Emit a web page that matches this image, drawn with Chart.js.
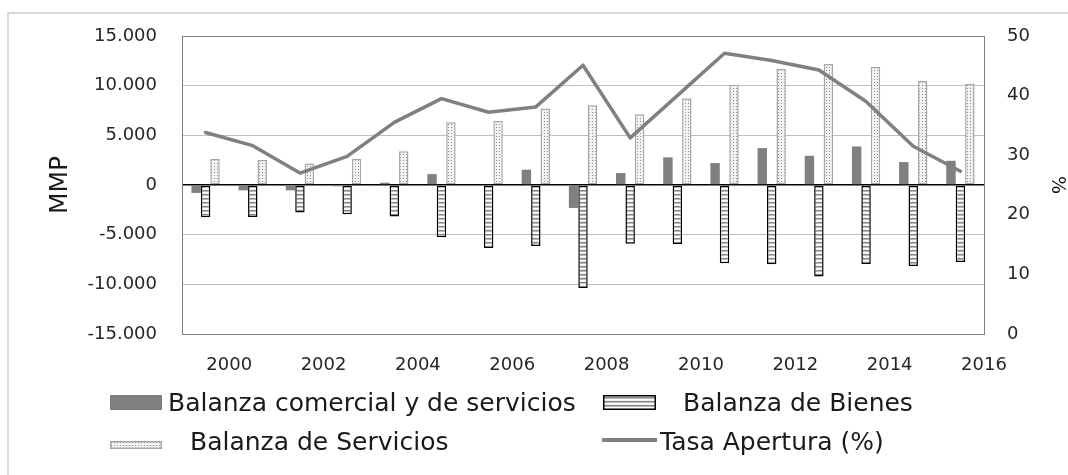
<!DOCTYPE html>
<html>
<head>
<meta charset="utf-8">
<script src="https://cdn.jsdelivr.net/npm/chart.js@4.4.1/dist/chart.umd.min.js"></script>
<style>
  html, body { margin: 0; padding: 0; background: #ffffff; }
  #wrap { position: relative; width: 1068px; height: 475px; overflow: hidden; font-family: "DejaVu Sans", sans-serif; }
  #frame { position: absolute; left: 7px; top: 12px; right: -10px; bottom: -10px;
           border-left: 2px solid #d9d9d9; border-top: 2px solid #d9d9d9; }
  #chart { position: absolute; left: 0; top: 0; }
  .lg-text { position: absolute; font-size: 25px; line-height: 25px; color: #1a1a1a; white-space: nowrap; }
  .lg-swatch { position: absolute; display: block; }
</style>
</head>
<body>
<div id="wrap">
  <div id="frame"></div>
  <canvas id="chart" width="1068" height="475"></canvas>
  <div id="legend"></div>
</div>
<script>
// Años (categorías del eje X)
const years = ['2000', '2001', '2002', '2003', '2004', '2005', '2006', '2007', '2008',
               '2009', '2010', '2011', '2012', '2013', '2014', '2015', '2016'];

// Saldos en millones (MMP)
const balanzaComercialServicios = [-800, -540, -540, -130, 230, 1100, 80, 1540, -2310,
                                   1200, 2780, 2210, 3710, 2940, 3880, 2310, 2440];
const balanzaBienes = [-3240, -3210, -2780, -2940, -3180, -5250, -6350, -6150, -10370,
                       -5920, -5950, -7890, -7990, -9200, -7960, -8160, -7760];
const balanzaServicios = [2610, 2510, 2170, 2640, 3410, 6320, 6450, 7690, 8030,
                          7120, 8730, 10100, 11700, 12170, 11870, 10470, 10200];

// Tasa de apertura (%), eje derecho
const tasaApertura = [33.8, 31.6, 27.0, 29.8, 35.5, 39.5, 37.2, 38.1, 45.1,
                      32.9, 40.0, 47.1, 45.9, 44.3, 39.0, 31.5, 27.3];

const seriesNames = ['Balanza comercial y de servicios', 'Balanza de Bienes',
                     'Balanza de Servicios', 'Tasa Apertura (%)'];

// Ticks
const leftTicks = { min: -15000, max: 15000, step: 5000 };
const rightTicks = { min: 0, max: 50, step: 10 };

Chart.defaults.font.family = '"DejaVu Sans", sans-serif';
Chart.defaults.color = '#262626';

// Relleno de rayas horizontales
function stripePattern() {
  const c = document.createElement('canvas');
  c.width = 4; c.height = 4;
  const g = c.getContext('2d');
  g.fillStyle = '#ffffff'; g.fillRect(0, 0, 4, 1);
  g.fillStyle = '#f0f0f0'; g.fillRect(0, 1, 4, 1);
  g.fillStyle = '#8a8a8a'; g.fillRect(0, 2, 4, 1);
  g.fillStyle = '#b8b8b8'; g.fillRect(0, 3, 4, 1);
  return g.createPattern(c, 'repeat');
}

// Relleno punteado
function dotPattern() {
  const c = document.createElement('canvas');
  c.width = 3; c.height = 3;
  const g = c.getContext('2d');
  g.fillStyle = '#f2f2f2'; g.fillRect(0, 0, 3, 3);
  g.fillStyle = '#8c8c8c'; g.fillRect(1, 1, 1, 1);
  return g.createPattern(c, 'repeat');
}

const stripes = stripePattern();
const dots = dotPattern();

function miles(v) {
  const s = Math.abs(v).toString().replace(/\B(?=(\d{3})+(?!\d))/g, '.');
  return (v < 0 ? '-' : '') + s;
}

function gridColor(ctx) {
  const v = ctx.tick ? ctx.tick.value : null;
  if (v === 0) return '#000000';
  if (v === leftTicks.min || v === leftTicks.max) return '#7f7f7f';
  return '#bfbfbf';
}
function gridWidth(ctx) {
  const v = ctx.tick ? ctx.tick.value : null;
  return v === 0 ? 1.6 : 1;
}

const datasets = [
  {
    type: 'bar', label: seriesNames[0], data: balanzaComercialServicios,
    backgroundColor: '#808080', borderWidth: 0, order: 1
  },
  {
    type: 'bar', label: seriesNames[1], data: balanzaBienes,
    backgroundColor: stripes, borderColor: '#000000', borderWidth: 1.5,
    borderSkipped: false, order: 1
  },
  {
    type: 'bar', label: seriesNames[2], data: balanzaServicios,
    backgroundColor: dots, borderColor: '#a6a6a6', borderWidth: 1.5,
    borderSkipped: false, order: 1
  },
  {
    type: 'line', label: seriesNames[3], data: tasaApertura, yAxisID: 'y1',
    borderColor: '#808080', backgroundColor: '#808080', borderWidth: 3.5,
    pointRadius: 0, tension: 0, borderJoinStyle: 'round', borderCapStyle: 'round',
    fill: false, order: 0
  }
];

const chart = new Chart(document.getElementById('chart'), {
  data: { labels: years, datasets },
  options: {
    responsive: false,
    animation: false,
    events: [],
    layout: { padding: { top: 36, right: 0, bottom: 101, left: 0 } },
    datasets: { bar: { categoryPercentage: 0.6, barPercentage: 1.0 } },
    plugins: { legend: { display: false }, tooltip: { enabled: false } },
    scales: {
      x: {
        type: 'category',
        grid: { display: false },
        border: { display: false },
        ticks: {
          autoSkip: false, maxRotation: 0, minRotation: 0,
          padding: 13, labelOffset: 23.6,
          font: { size: 18 }, color: '#262626',
          callback: function (value, index) { return index % 2 === 0 ? this.getLabelForValue(value) : ''; }
        },
        afterFit: s => { s.height = 40; s.paddingLeft = 0; s.paddingRight = 0; }
      },
      y: {
        position: 'left',
        min: leftTicks.min, max: leftTicks.max,
        grid: { color: gridColor, lineWidth: gridWidth, drawTicks: false },
        border: { display: true, color: '#7f7f7f', width: 1 },
        ticks: { stepSize: leftTicks.step, padding: 25, font: { size: 18 }, color: '#262626',
                 callback: v => miles(v) },
        title: { display: true, text: 'MMP', font: { size: 25 }, color: '#1a1a1a',
                 padding: { top: 45, bottom: 0 } },
        afterFit: s => { s.width = 182; }
      },
      y1: {
        position: 'right',
        min: rightTicks.min, max: rightTicks.max,
        grid: { display: false, drawTicks: false },
        border: { display: true, color: '#7f7f7f', width: 1 },
        ticks: { stepSize: rightTicks.step, padding: 23, font: { size: 18 }, color: '#262626' },
        title: { display: true, text: '%', font: { size: 19 }, color: '#1a1a1a',
                 padding: { top: 0, bottom: 0 } },
        afterFit: s => { s.width = 84; }
      }
    }
  }
});

// Leyenda en dos columnas
const legendSlots = [
  { sw: [110, 395, 52, 15], tx: [168, 390] },
  { sw: [603, 395, 53, 15], tx: [683, 390] },
  { sw: [110, 441, 52, 8],  tx: [190, 429] },
  { sw: [602, 438, 55, 4],  tx: [660, 429] }
];

const legendEl = document.getElementById('legend');
chart.data.datasets.forEach((ds, i) => {
  const slot = legendSlots[i];
  const [x, y, w, h] = slot.sw;
  const c = document.createElement('canvas');
  c.className = 'lg-swatch';
  c.width = w; c.height = h;
  c.style.left = x + 'px'; c.style.top = y + 'px';
  const g = c.getContext('2d');
  if (ds.type === 'line') {
    g.fillStyle = ds.borderColor;
    g.fillRect(0, 0, w, h);
  } else {
    g.fillStyle = i === 1 ? stripePattern() : (i === 2 ? dotPattern() : ds.backgroundColor);
    g.fillRect(0, 0, w, h);
    if (ds.borderWidth) {
      g.strokeStyle = ds.borderColor;
      g.lineWidth = ds.borderWidth;
      g.strokeRect(ds.borderWidth / 2, ds.borderWidth / 2, w - ds.borderWidth, h - ds.borderWidth);
    }
  }
  legendEl.appendChild(c);

  const t = document.createElement('div');
  t.className = 'lg-text';
  t.textContent = ds.label;
  t.style.left = slot.tx[0] + 'px';
  t.style.top = slot.tx[1] + 'px';
  legendEl.appendChild(t);
});
</script>
</body>
</html>
